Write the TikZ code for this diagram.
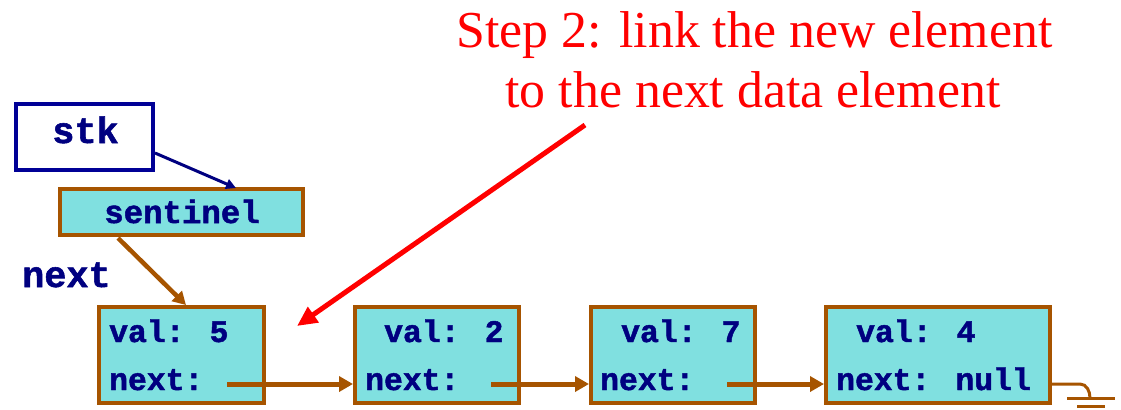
\documentclass[tikz,border=0pt]{standalone}
\usepackage{fontspec}
\setmainfont{Liberation Serif}
\newfontfamily\cour{Liberation Mono}[BoldFeatures={FakeBold=1.5}]
\usetikzlibrary{arrows.meta}
\definecolor{cyanfill}{RGB}{128,224,224}
\definecolor{brn}{RGB}{166,84,0}
\definecolor{navy}{RGB}{0,0,128}
\definecolor{stkblue}{RGB}{0,0,150}
\begin{document}
\begin{tikzpicture}[x=1bp,y=-1bp,
  cell/.style={draw=brn, line width=4bp, fill=cyanfill, rectangle, inner sep=0pt},
  code/.style={font=\cour\bfseries\fontsize{31.5}{36}\selectfont, text=navy, inner sep=0pt, anchor=base west},
  bigcode/.style={font=\cour\bfseries\fontsize{37}{40}\selectfont, text=navy, inner sep=0pt},
  link/.style={draw=brn, line width=5bp, -{Triangle[length=14bp,width=15bp]}},
  redtext/.style={font=\fontsize{52}{60}\selectfont, text=red, inner sep=0pt, anchor=base}
]
\useasboundingbox (0,0) rectangle (1121,409);
% boxes
\node[draw=stkblue, line width=3.5bp, fill=white, rectangle, inner sep=0pt, minimum width=137bp, minimum height=66bp] (stk) at (84.5,137) {};
\node[cell, minimum width=243bp, minimum height=46bp] (sent) at (181.5,212) {};
\node[cell, minimum width=165bp, minimum height=96bp] (b1) at (181.5,355) {};
\node[cell, minimum width=164bp, minimum height=96bp] (b2) at (437,355) {};
\node[cell, minimum width=164bp, minimum height=96bp] (b3) at (673,355) {};
\node[cell, minimum width=224bp, minimum height=96bp] (b4) at (938,355) {};
% texts
\node[bigcode, anchor=base] (stkt) at (85.5,143) {stk};
\node[code, font=\cour\bfseries\fontsize{32.5}{36}\selectfont, anchor=base] (sentt) at (182,223) {sentinel};
\node[bigcode, anchor=base west] (nextlbl) at (22,287) {next};
\node[code] (v1) at (109,342) {val: 5};
\node[code] (n1) at (109,390) {next:};
\node[code] (v2) at (384,342) {val: 2};
\node[code] (n2) at (365,390) {next:};
\node[code] (v3) at (621,342) {val: 7};
\node[code] (n3) at (600,390) {next:};
\node[code] (v4) at (856,342) {val: 4};
\node[code] (n4) at (836,390) {next: null};
\node[redtext] (t1) at (754.5,47) {Step 2: link the new element};
\node[redtext] (t2) at (753,107) {to the next data element};
% connectors
\coordinate (sa) at (155,153);
\coordinate (sb) at (236,188);
\draw[navy, line width=3bp, -{Triangle[length=10bp,width=10bp]}] (sa) -- (sb);
\coordinate (na) at (118,238);
\coordinate (nb) at (186,305);
\draw[draw=brn, line width=4.5bp, -{Triangle[length=13bp,width=14bp]}] (na) -- (nb);
\coordinate (a1) at (227,384);
\coordinate (a2) at (491,384);
\coordinate (a3) at (727,384);
\draw[link] (a1) -- (a1 -| b2.west);
\draw[link] (a2) -- (a2 -| b3.west);
\draw[link] (a3) -- (a3 -| b4.west);
% ground
\coordinate (g0) at (1052,384);
\coordinate (g1) at (1080,384);
\coordinate (g2) at (1090,398);
\draw[brn, line width=3bp] (g0) -- (g1) to[out=0,in=90] (g2);
\coordinate (gl1) at (1067,398);
\coordinate (gr1) at (1115,398);
\coordinate (gl2) at (1077,406);
\coordinate (gr2) at (1105,406);
\draw[brn, line width=3bp] (gl1) -- (gr1);
\draw[brn, line width=3bp] (gl2) -- (gr2);
% red arrow
\coordinate (rs) at (585,125);
\coordinate (rt) at (297,326);
\draw[red, line width=5bp, -{Triangle[length=20bp,width=18bp]}] (rs) -- (rt);
\end{tikzpicture}
\end{document}
